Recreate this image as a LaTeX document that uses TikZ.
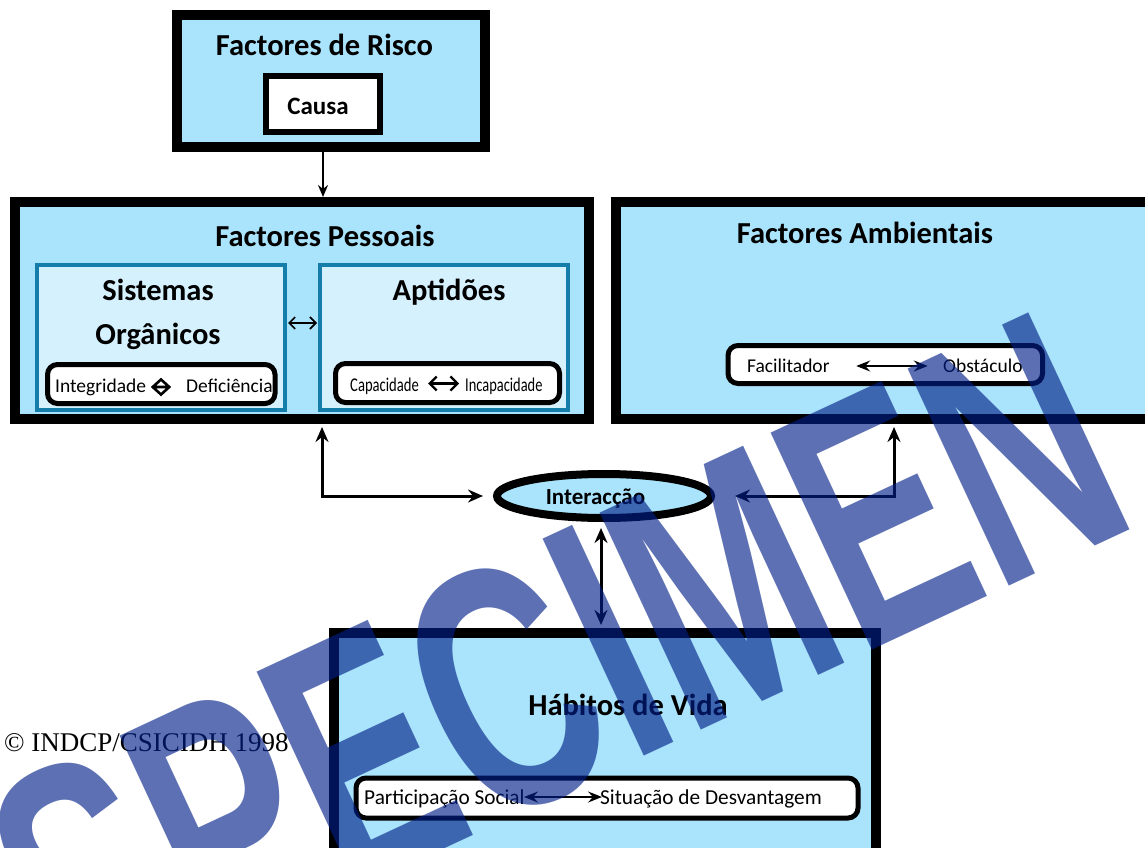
\documentclass[tikz,border=0pt]{standalone}
\usepackage{fontspec}
\usepackage{graphicx}
\setmainfont{Carlito}
\newfontfamily\timesf{Liberation Serif}
\newfontfamily\wmfont{Liberation Sans}
\usetikzlibrary{arrows.meta,shapes.geometric,calc}
\definecolor{lblue}{RGB}{170,228,252}
\definecolor{pblue}{RGB}{212,241,253}
\definecolor{boxteal}{RGB}{20,125,170}
\definecolor{wmblue}{RGB}{0,31,136}
\tikzset{
  heavybox/.style={draw=black, line width=10pt, fill=lblue, inner sep=0pt},
  subbox/.style={draw=boxteal, line width=4pt, fill=pblue, inner sep=0pt},
  pill/.style={draw=black, line width=5pt, fill=white, rounded corners=10pt, inner sep=0pt},
  ttl/.style={font=\bfseries\fontsize{30.5}{32}\selectfont, inner sep=0pt, anchor=base},
  txt/.style={font=\fontsize{19.5}{21}\selectfont, inner sep=0pt, anchor=base west},
  bigtxt/.style={font=\fontsize{21.3}{23}\selectfont, inner sep=0pt, anchor=base west},
  conn/.style={line width=3pt, {Stealth[length=15pt,width=13pt,inset=5pt]}-{Stealth[length=15pt,width=13pt,inset=5pt]}},
  pillarrow/.style={line width=2pt, {Stealth[length=14pt,width=11pt,inset=5pt]}-{Stealth[length=14pt,width=11pt,inset=5pt]}},
  barbarrow/.style={line width=1.6pt, {Straight Barb[length=6pt,width=12pt]}-{Straight Barb[length=6pt,width=12pt]}},
}
\begin{document}
\begin{tikzpicture}[x=1pt,y=-1pt]
\useasboundingbox (0,0) rectangle (1145,848);
\clip (0,0) rectangle (1145,848);

% Factores de Risco
\node[heavybox, minimum width=308pt, minimum height=132pt] (risco) at (331,81) {};
\node[ttl] (riscoT) at (324.5,55.5) {Factores de Risco};
\node[draw=black, line width=6pt, fill=white, minimum width=114pt, minimum height=56pt, inner sep=0pt] (causa) at (323,104) {};
\node[font=\bfseries\fontsize{25}{26}\selectfont, inner sep=0pt, anchor=base] (causaT) at (318,115) {Causa};

% Factores Pessoais
\node[heavybox, minimum width=574pt, minimum height=217pt] (pess) at (302,310.5) {};
\node[ttl] (pessT) at (325,246) {Factores Pessoais};
\node[subbox, minimum width=248pt, minimum height=145pt] (sis) at (161,337.5) {};
\node[subbox, minimum width=248pt, minimum height=145pt] (apt) at (444,337.5) {};
\node[ttl] (sisT1) at (158,300) {Sistemas};
\node[ttl] (sisT2) at (158,344) {Orgânicos};
\node[ttl] (aptT) at (449,300) {Aptidões};
\draw[barbarrow] ($(sis.east)+(1,-14.5)$) -- ($(apt.west)+(-1,-14.5)$);

\node[pill, minimum width=227.5pt, minimum height=39pt] (sispill) at (161.25,384) {};
\node[txt] (integ) at (55,392.5) {Integridade};
\node[txt] (defic) at (186,392.5) {Deficiência};
\coordinate (glyph) at (161,387);
\draw[line width=2.6pt, line join=miter]
  ($(glyph)+(-8.3,0)$) -- ($(glyph)+(0,-7.5)$) -- ($(glyph)+(8.3,0)$) -- ($(glyph)+(0,7.5)$) -- cycle
  ($(glyph)+(-8.3,0)$) -- ($(glyph)+(8.3,0)$);

\node[pill, minimum width=224pt, minimum height=39pt] (aptpill) at (447.5,383) {};
\node[txt] (capac) at (350,391) {\scalebox{0.75}[1]{Capacidade}};
\node[txt] (incap) at (465,391) {\scalebox{0.74}[1]{Incapacidade}};
\draw[line width=2.3pt, {Straight Barb[length=7pt,width=14pt]}-{Straight Barb[length=7pt,width=14pt]}]
  ($(aptpill.center)+(-19.5,0.5)$) -- ($(aptpill.center)+(11.5,0.5)$);

% Factores Ambientais
\node[heavybox, minimum width=545pt, minimum height=217pt] (amb) at (888,310.5) {};
\node[ttl] (ambT) at (865,243) {Factores Ambientais};
\node[pill, minimum width=314.5pt, minimum height=38pt] (ambpill) at (885.25,364.5) {};
\node[txt] (facil) at (747,372.5) {Facilitador};
\node[txt] (obst) at (943,372.5) {Obstáculo};
\draw[pillarrow] ($(ambpill.center)+(-29,1.5)$) -- ($(ambpill.center)+(42.5,1.5)$);

% Interaccao
\node[ellipse, draw=black, line width=8pt, fill=lblue, minimum width=214pt, minimum height=44pt, inner sep=0pt] (inter) at (604,496) {};
\node[font=\bfseries\fontsize{23}{24}\selectfont, inner sep=0pt, anchor=base] (interT) at (595.5,504) {Interacção};

% Habitos de Vida
\node[heavybox, minimum width=541.5pt, minimum height=240pt] (hab) at (604.75,753) {};
\node[ttl] (habT) at (628,715) {Hábitos de Vida};
\node[pill, minimum width=502pt, minimum height=40pt] (habpill) at (607,798) {};
\node[bigtxt] (partic) at (364,804.5) {Participação Social};
\node[bigtxt] (situ) at (600,804.5) {Situação de Desvantagem};
\draw[pillarrow] ($(habpill.center)+(-83,-1)$) -- ($(habpill.center)+(-5,-1)$);

% connectors
\draw[line width=2pt, -{Stealth[length=12pt,width=10pt,inset=4pt]}] (risco.south -| causa.south) -- (pess.north -| causa.south);
\draw[conn] ($(pess.south)+(20,3)$) |- ($(inter.west)+(-10,0)$);
\draw[conn] ($(amb.south)+(6,3)$) |- ($(inter.east)+(20,0)$);
\draw[conn] ($(inter.south)+(-3,6)$) -- ($(inter.south |- hab.north)+(-3,-3)$);

% copyright
\node[font=\timesf\fontsize{27}{29}\selectfont, inner sep=0pt, anchor=base west] (copy) at (4,751) {© INDCP/CSICIDH 1998};

% watermark
\node[rotate=25, text=wmblue, opacity=0.64, font=\wmfont\bfseries\fontsize{348}{348}\selectfont, inner sep=0pt] (wm) at (556.5,665) {\scalebox{0.651}[1]{SPECIMEN}};
\end{tikzpicture}
\end{document}
